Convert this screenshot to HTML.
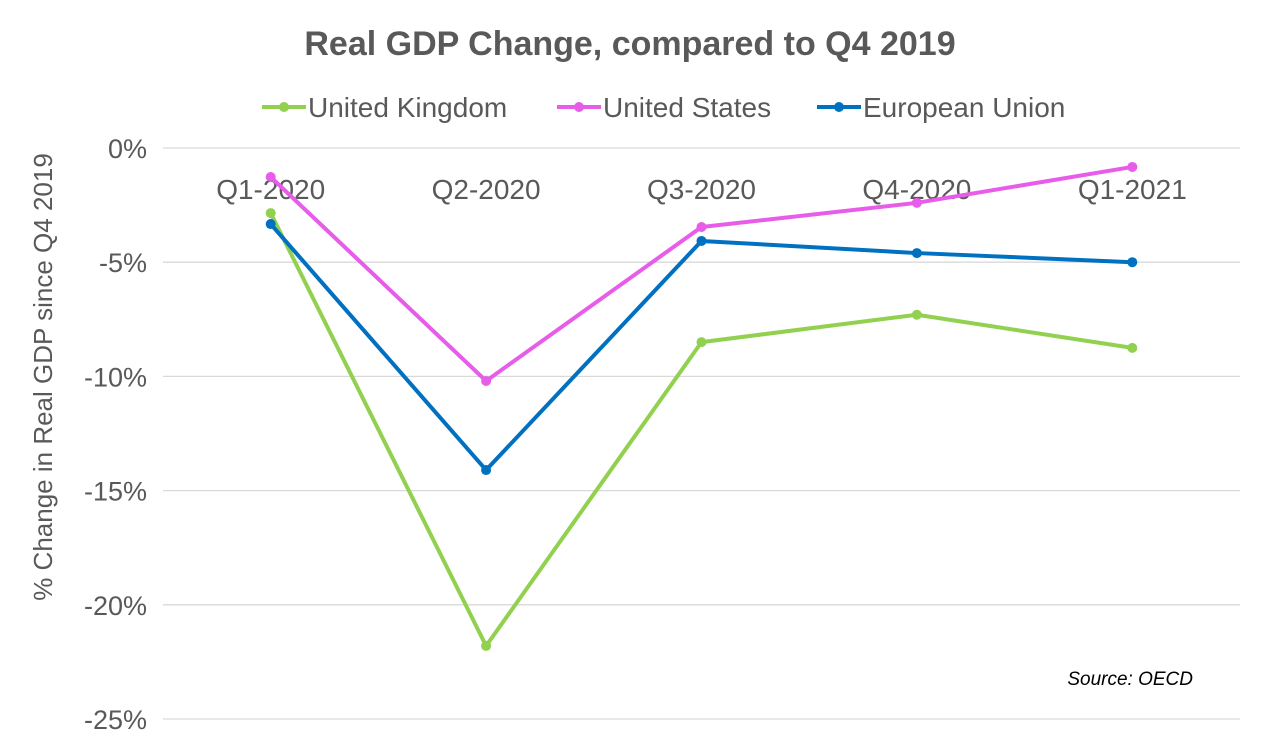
<!DOCTYPE html>
<html><head><meta charset="utf-8"><style>
html,body{margin:0;padding:0;background:#fff;width:1262px;height:756px;overflow:hidden}
text{font-family:"Liberation Sans",sans-serif}
</style></head><body>
<svg id="chart" width="1262" height="756" viewBox="0 0 1262 756" xmlns="http://www.w3.org/2000/svg">
<text x="630" y="55" text-anchor="middle" font-size="34" font-weight="bold" fill="#595959">Real GDP Change, compared to Q4 2019</text>
<g id="legend"></g>
<g id="grid"></g>
<g id="yticks"></g>
<g id="xticks"></g>
<g id="series"></g>
<text transform="translate(52,377) rotate(-90)" text-anchor="middle" font-size="26" fill="#595959">% Change in Real GDP since Q4 2019</text>
<text x="1193" y="685" text-anchor="end" font-size="19" font-style="italic" fill="#000">Source: OECD</text>
</svg>
<script>
const categories=["Q1-2020","Q2-2020","Q3-2020","Q4-2020","Q1-2021"];
const ukValues=[-2.85,-21.8,-8.5,-7.3,-8.75];
const usValues=[-1.27,-10.2,-3.46,-2.4,-0.83];
const euValues=[-3.33,-14.1,-4.07,-4.6,-5.0];
const yTicks=[0,-5,-10,-15,-20,-25];
const seriesNames=["United Kingdom","United States","European Union"];
const NS="http://www.w3.org/2000/svg";
const x0=163,x1=1240,y0=148,y25=719;
const xScale=i=>x0+(x1-x0)*(i+0.5)/categories.length;
const yScale=v=>y0+(y25-y0)*(v/-25);
function mk(t,a,p){const e=document.createElementNS(NS,t);for(const k in a)e.setAttribute(k,a[k]);p.appendChild(e);return e;}
const grid=document.getElementById('grid'),yt=document.getElementById('yticks'),xt=document.getElementById('xticks'),sg=document.getElementById('series'),lg=document.getElementById('legend');
yTicks.forEach(v=>{
 const l=mk('line',{x1:x0,x2:x1,y1:yScale(v),y2:yScale(v),stroke:'#d9d9d9','stroke-width':1.3},grid);
 
 
 const t=mk('text',{x:147,y:yScale(v)+10,'text-anchor':'end','font-size':27,fill:'#595959'},yt);
 t.textContent=v+'%';
 
 
});
categories.forEach((c,i)=>{
 const t=mk('text',{x:xScale(i),y:199,'text-anchor':'middle','font-size':28,fill:'#595959'},xt);
 t.textContent=c;
 
 
});
const colors=["#92d050","#e75ce8","#0070c0"];
[ukValues,usValues,euValues].forEach((vals,s)=>{
 const g=mk('g',{},sg);
 
 
 const p=mk('polyline',{points:vals.map((v,i)=>xScale(i)+','+yScale(v)).join(' '),fill:'none',stroke:colors[s],'stroke-width':4,'stroke-linejoin':'round'},g);
 
 
 vals.forEach((v,i)=>{
  const c=mk('circle',{cx:xScale(i),cy:yScale(v),r:5,fill:colors[s]},g);
  
  
 });
});
const lx=[262,557,817];
seriesNames.forEach((n,s)=>{
 const g=mk('g',{},lg);
 
 
 mk('line',{x1:lx[s],x2:lx[s]+44,y1:107,y2:107,stroke:colors[s],'stroke-width':4},g);
 mk('circle',{cx:lx[s]+22,cy:107,r:5,fill:colors[s]},g);
 const t=mk('text',{x:lx[s]+46,y:117,'font-size':28,fill:'#595959'},g);
 t.textContent=n;
});
</script>
</body></html>
